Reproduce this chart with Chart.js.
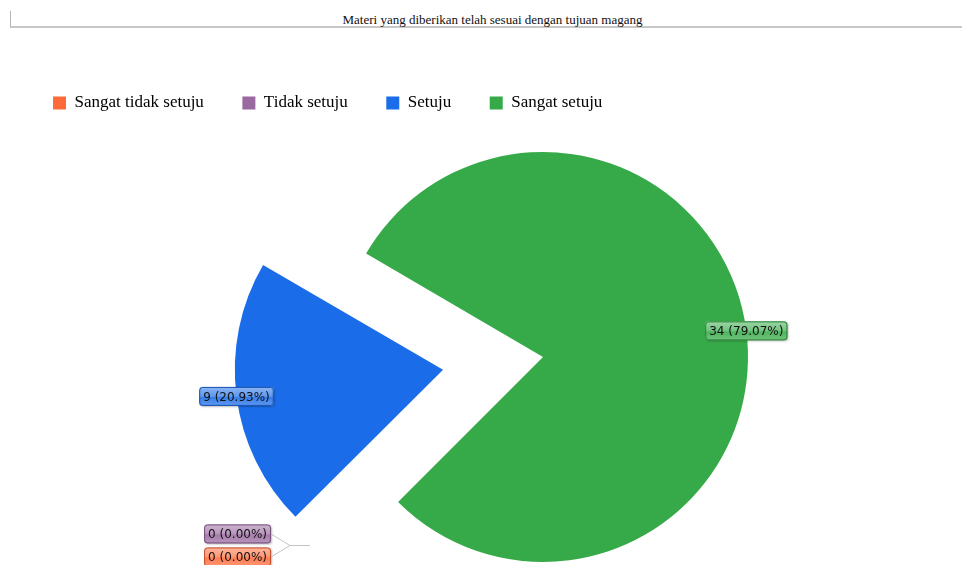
<!DOCTYPE html>
<html>
<head>
<meta charset="utf-8">
<script src="https://cdn.jsdelivr.net/npm/chart.js@4.4.1/dist/chart.umd.min.js"></script>
<style>
    html, body { margin: 0; padding: 0; background: #fff; overflow: hidden; width: 962px; height: 565px; }
    #judul {
        position: absolute; left: 10px; top: 11px; width: 952px; height: 17px;
        border-left: 1px solid #b5b5b5; border-bottom: 2px solid #c8c8c8;
        font: 13px "Liberation Serif", serif; color: #111; text-align: center;
        line-height: 17px; padding-left: 12px; box-sizing: border-box;
    }
    #wadah { position: absolute; left: 0; top: 0; }
</style>
</head>
<body>
<div id="judul">Materi yang diberikan telah sesuai dengan tujuan magang</div>
<div id="wadah"><canvas id="pieChart" width="1100" height="700"></canvas></div>
<script>
// Data jawaban kuesioner
const kategori = ['Sangat tidak setuju', 'Tidak setuju', 'Setuju', 'Sangat setuju'];
const jumlah = [0, 0, 9, 34];
const warna = ['#FF6A3A', '#9A69A0', '#1B6CE8', '#36AA48'];
// Chart.js menggeser irisan sekitar offset/4
const geserIrisan = [0, 0, 403, 0];

const total = jumlah.reduce((a, b) => a + b, 0);

// Campur warna dengan putih untuk efek kilap label
function terangkan(hex, t) {
    const n = parseInt(hex.slice(1), 16);
    const r = (n >> 16) & 255, g = (n >> 8) & 255, b = n & 255;
    const m = c => Math.round(c + (255 - c) * t);
    return `rgb(${m(r)},${m(g)},${m(b)})`;
}
function gelapkan(hex, t) {
    const n = parseInt(hex.slice(1), 16);
    const r = (n >> 16) & 255, g = (n >> 8) & 255, b = n & 255;
    const m = c => Math.round(c * (1 - t));
    return `rgb(${m(r)},${m(g)},${m(b)})`;
}

function kotakLabel(ctx, teks, cx, cy, hex) {
    ctx.font = '12px "DejaVu Sans", sans-serif';
    const w = ctx.measureText(teks).width + 8;
    const h = 19;
    const x = cx - w / 2, y = cy - h / 2;
    ctx.save();
    ctx.shadowColor = 'rgba(0,0,0,0.25)';
    ctx.shadowBlur = 2;
    ctx.shadowOffsetX = 1;
    ctx.shadowOffsetY = 1;
    const grad = ctx.createLinearGradient(0, y, 0, y + h);
    grad.addColorStop(0, terangkan(hex, 0.5));
    grad.addColorStop(0.5, terangkan(hex, 0.3));
    grad.addColorStop(0.55, terangkan(hex, 0.12));
    grad.addColorStop(1, terangkan(hex, 0.3));
    ctx.fillStyle = grad;
    ctx.beginPath();
    ctx.roundRect(x, y, w, h, 3);
    ctx.fill();
    ctx.restore();
    ctx.strokeStyle = gelapkan(hex, 0.25);
    ctx.lineWidth = 1;
    ctx.beginPath();
    ctx.roundRect(x + 0.5, y + 0.5, w - 1, h - 1, 3);
    ctx.stroke();
    ctx.fillStyle = '#111';
    ctx.textAlign = 'center';
    ctx.textBaseline = 'middle';
    ctx.fillText(teks, cx, cy + 1);
    return { x, y, w, h };
}

// Plugin label nilai di tepi irisan
const labelIrisan = {
    id: 'labelIrisan',
    afterDatasetsDraw(chart) {
        const ctx = chart.ctx;
        const meta = chart.getDatasetMeta(0);
        const nol = [];
        meta.data.forEach((arc, i) => {
            const v = jumlah[i];
            const teks = `${v} (${(v / total * 100).toFixed(2)}%)`;
            const p = arc.getProps(['x', 'y', 'startAngle', 'endAngle', 'outerRadius', 'circumference']);
            if (v === 0) {
                nol.push({ i, teks, p });
                return;
            }
            const tengah = (p.startAngle + p.endAngle) / 2;
            // pergeseran sama dengan yang dipakai ArcElement saat menggambar
            const off = (arc.options.offset || 0) / 4;
            const fix = 1 - Math.sin(Math.min(Math.PI, p.circumference || 0));
            const jarak = p.outerRadius + off * (1 + fix);
            kotakLabel(ctx, teks, p.x + Math.cos(tengah) * jarak, p.y + Math.sin(tengah) * jarak, warna[i]);
        });
        if (!nol.length) return;
        // label nilai nol ditumpuk ke kiri bawah dengan garis penghubung
        const p = nol[0].p;
        const r = p.outerRadius;
        const sambung = { x: p.x - 1.137 * r, y: p.y + 0.917 * r };
        const siku = { x: sambung.x - 20, y: sambung.y };
        ctx.save();
        nol.slice().reverse().forEach((item, k) => {
            const cx = p.x - 1.49 * r;
            const cy = p.y + 0.863 * r + k * 23;
            const box = kotakLabel(ctx, item.teks, cx, cy, warna[item.i]);
            ctx.strokeStyle = '#c4c4c4';
            ctx.lineWidth = 1;
            ctx.beginPath();
            ctx.moveTo(sambung.x, sambung.y + 0.5);
            ctx.lineTo(siku.x, siku.y + 0.5);
            ctx.lineTo(box.x + box.w, cy);
            ctx.stroke();
        });
        ctx.restore();
    }
};

const ctx = document.getElementById('pieChart').getContext('2d');
new Chart(ctx, {
    type: 'pie',
    data: {
        labels: kategori,
        datasets: [{
            data: jumlah,
            backgroundColor: warna,
            borderWidth: 0,
            offset: geserIrisan,
            hoverOffset: 0
        }]
    },
    options: {
        responsive: false,
        animation: false,
        radius: 205,
        rotation: 225,
        layout: { padding: { left: 14.5, top: 56, right: 28.5, bottom: 107.5 } },
        plugins: {
            tooltip: { enabled: false },
            legend: {
                position: 'top',
                align: 'start',
                labels: {
                    boxWidth: 13,
                    boxHeight: 13,
                    padding: 38.5,
                    color: '#000',
                    font: { family: '"Liberation Serif", serif', size: 17 }
                }
            }
        }
    },
    plugins: [labelIrisan]
});
</script>
</body>
</html>
